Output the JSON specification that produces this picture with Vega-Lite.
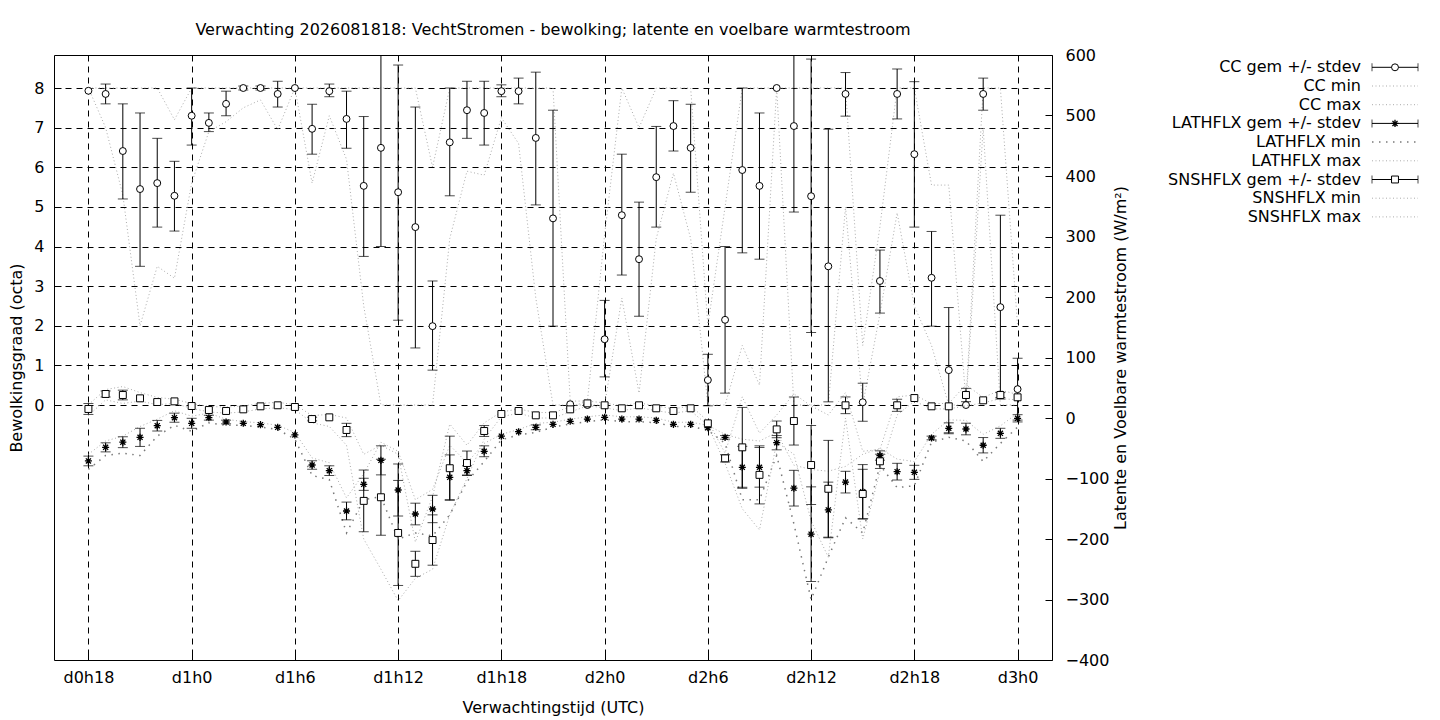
{
  "$schema": "https://vega.github.io/schema/vega-lite/v6.json",
  "padding": {"left": 8, "top": 21, "right": 0, "bottom": 0},
  "bounds": "flush",
  "spacing": 87,
  "datasets": {
    "d": [
      {"h": 18, "cc": 7.93, "cc_lo": null, "cc_hi": null, "cc_min": 8, "cc_max": 8, "lat": -71, "lat_lo": -79, "lat_hi": -63, "lat_min": -85, "lat_max": -60, "sns": 14.9, "sns_lo": 5.9, "sns_hi": 23.9, "sns_min": 4, "sns_max": 22},
      {"h": 19, "cc": 7.85, "cc_lo": 7.6, "cc_hi": 8.1, "cc_min": 7.0, "cc_max": 8, "lat": -48.5, "lat_lo": -56, "lat_hi": -41, "lat_min": -62, "lat_max": -38, "sns": 39.7, "sns_lo": 34.7, "sns_hi": 44.7, "sns_min": 30, "sns_max": 47},
      {"h": 20, "cc": 6.41, "cc_lo": 5.2, "cc_hi": 7.6, "cc_min": 5.3, "cc_max": 8, "lat": -40, "lat_lo": -49, "lat_hi": -31, "lat_min": -58, "lat_max": -30, "sns": 38, "sns_lo": 30, "sns_hi": 46, "sns_min": 24, "sns_max": 52},
      {"h": 21, "cc": 5.45, "cc_lo": 3.5, "cc_hi": 7.37, "cc_min": 2.0, "cc_max": 8, "lat": -32, "lat_lo": -47, "lat_hi": -17, "lat_min": -62, "lat_max": -14, "sns": 32.5, "sns_lo": null, "sns_hi": null, "sns_min": 28, "sns_max": 42},
      {"h": 22, "cc": 5.6, "cc_lo": 4.49, "cc_hi": 6.73, "cc_min": 3.5, "cc_max": 8, "lat": -12.7, "lat_lo": -21.5, "lat_hi": -4, "lat_min": -30, "lat_max": -2, "sns": 26.4, "sns_lo": null, "sns_hi": null, "sns_min": 22, "sns_max": 34},
      {"h": 23, "cc": 5.28, "cc_lo": 4.39, "cc_hi": 6.15, "cc_min": 3.2, "cc_max": 7.2, "lat": 0.5, "lat_lo": -7, "lat_hi": 8, "lat_min": -12, "lat_max": 12, "sns": 27.5, "sns_lo": null, "sns_hi": null, "sns_min": 24, "sns_max": 31},
      {"h": 24, "cc": 7.3, "cc_lo": 6.56, "cc_hi": 8.0, "cc_min": 5.6, "cc_max": 8, "lat": -8.8, "lat_lo": -17, "lat_hi": -0.5, "lat_min": -22, "lat_max": 3, "sns": 19.8, "sns_lo": null, "sns_hi": null, "sns_min": 16, "sns_max": 24},
      {"h": 25, "cc": 7.12, "cc_lo": 6.9, "cc_hi": 7.37, "cc_min": 6.9, "cc_max": 8, "lat": 0.5, "lat_lo": -3.5, "lat_hi": 4.5, "lat_min": -8, "lat_max": 8, "sns": 13.2, "sns_lo": null, "sns_hi": null, "sns_min": 10, "sns_max": 19},
      {"h": 26, "cc": 7.6, "cc_lo": 7.3, "cc_hi": 7.92, "cc_min": 7.15, "cc_max": 8, "lat": -6.6, "lat_lo": -9.6, "lat_hi": -3.6, "lat_min": -12, "lat_max": -2, "sns": 11.6, "sns_lo": null, "sns_hi": null, "sns_min": 8, "sns_max": 18},
      {"h": 27, "cc": 8.0, "cc_lo": 7.95, "cc_hi": 8.05, "cc_min": 7.5, "cc_max": 8, "lat": -8.8, "lat_lo": null, "lat_hi": null, "lat_min": -12, "lat_max": -6, "sns": 14.3, "sns_lo": null, "sns_hi": null, "sns_min": 10, "sns_max": 20},
      {"h": 28, "cc": 8.0, "cc_lo": 7.95, "cc_hi": 8.05, "cc_min": 7.7, "cc_max": 8, "lat": -11, "lat_lo": null, "lat_hi": null, "lat_min": -15, "lat_max": -8, "sns": 19.3, "sns_lo": null, "sns_hi": null, "sns_min": 15, "sns_max": 24},
      {"h": 29, "cc": 7.85, "cc_lo": 7.52, "cc_hi": 8.17, "cc_min": 6.95, "cc_max": 8, "lat": -15.4, "lat_lo": null, "lat_hi": null, "lat_min": -19, "lat_max": -12, "sns": 21, "sns_lo": null, "sns_hi": null, "sns_min": 17, "sns_max": 26},
      {"h": 30, "cc": 8.0, "cc_lo": null, "cc_hi": null, "cc_min": 8, "cc_max": 8, "lat": -28, "lat_lo": null, "lat_hi": null, "lat_min": -35, "lat_max": -24, "sns": 18.2, "sns_lo": null, "sns_hi": null, "sns_min": 14, "sns_max": 22},
      {"h": 31, "cc": 6.97, "cc_lo": 6.33, "cc_hi": 7.59, "cc_min": 5.6, "cc_max": 8, "lat": -77.7, "lat_lo": -84.7, "lat_hi": -70.7, "lat_min": -95, "lat_max": -66, "sns": -1.7, "sns_lo": -4.7, "sns_hi": 1.3, "sns_min": -8, "sns_max": 4},
      {"h": 32, "cc": 7.92, "cc_lo": 7.78, "cc_hi": 8.1, "cc_min": 7.3, "cc_max": 8, "lat": -87, "lat_lo": -95, "lat_hi": -79, "lat_min": -102, "lat_max": -74, "sns": 1.1, "sns_lo": null, "sns_hi": null, "sns_min": -14, "sns_max": 6},
      {"h": 33, "cc": 7.22, "cc_lo": 6.48, "cc_hi": 7.92, "cc_min": 6.2, "cc_max": 8, "lat": -153.7, "lat_lo": -168.3, "lat_hi": -139, "lat_min": -190, "lat_max": -132, "sns": -19.8, "sns_lo": -30.8, "sns_hi": -8.8, "sns_min": -45, "sns_max": 0},
      {"h": 34, "cc": 5.53, "cc_lo": 3.75, "cc_hi": 7.28, "cc_min": 2.5, "cc_max": 8, "lat": -109.6, "lat_lo": -119.6, "lat_hi": -99.6, "lat_min": -135, "lat_max": -92, "sns": -137, "sns_lo": -188, "sns_hi": -86, "sns_min": -200, "sns_max": -60},
      {"h": 35, "cc": 6.49, "cc_lo": 4.0, "cc_hi": 8.98, "cc_min": 0, "cc_max": 8, "lat": -70, "lat_lo": -94, "lat_hi": -46, "lat_min": -130, "lat_max": -40, "sns": -131, "sns_lo": -193.8, "sns_hi": -68.2, "sns_min": -250, "sns_max": -45},
      {"h": 36, "cc": 5.37, "cc_lo": 2.14, "cc_hi": 8.58, "cc_min": 0, "cc_max": 8, "lat": -119, "lat_lo": -162, "lat_hi": -76, "lat_min": -200, "lat_max": -55, "sns": -190, "sns_lo": -276.8, "sns_hi": -103.2, "sns_min": -302, "sns_max": -60},
      {"h": 37, "cc": 4.49, "cc_lo": 1.44, "cc_hi": 7.52, "cc_min": 0, "cc_max": 8, "lat": -158.7, "lat_lo": -176.6, "lat_hi": -140.8, "lat_min": -190, "lat_max": -135, "sns": -241, "sns_lo": -261.7, "sns_hi": -220.3, "sns_min": -265, "sns_max": -205},
      {"h": 38, "cc": 1.99, "cc_lo": 0.88, "cc_hi": 3.13, "cc_min": 0, "cc_max": 6.0, "lat": -150.4, "lat_lo": -173, "lat_hi": -127.8, "lat_min": -195, "lat_max": -118, "sns": -201.7, "sns_lo": -243.3, "sns_hi": -160.1, "sns_min": -250, "sns_max": -130},
      {"h": 39, "cc": 6.63, "cc_lo": 5.28, "cc_hi": 8.0, "cc_min": 4.2, "cc_max": 8, "lat": -98, "lat_lo": -135, "lat_hi": -61, "lat_min": -160, "lat_max": -45, "sns": -83, "sns_lo": -136, "sns_hi": -30, "sns_min": -160, "sns_max": -10},
      {"h": 40, "cc": 7.44, "cc_lo": 6.73, "cc_hi": 8.17, "cc_min": 5.9, "cc_max": 8, "lat": -87, "lat_lo": -95, "lat_hi": -79, "lat_min": -105, "lat_max": -74, "sns": -74.4, "sns_lo": -94.2, "sns_hi": -54.6, "sns_min": -100, "sns_max": -45},
      {"h": 41, "cc": 7.37, "cc_lo": 6.56, "cc_hi": 8.17, "cc_min": 5.8, "cc_max": 8, "lat": -55, "lat_lo": -64, "lat_hi": -46, "lat_min": -72, "lat_max": -42, "sns": -21.5, "sns_lo": -30.5, "sns_hi": -12.5, "sns_min": -35, "sns_max": -8},
      {"h": 42, "cc": 7.92, "cc_lo": 7.78, "cc_hi": 8.08, "cc_min": 7.25, "cc_max": 8, "lat": -30, "lat_lo": null, "lat_hi": null, "lat_min": -36, "lat_max": -27, "sns": 6.6, "sns_lo": null, "sns_hi": null, "sns_min": 2, "sns_max": 10},
      {"h": 43, "cc": 7.92, "cc_lo": 7.6, "cc_hi": 8.25, "cc_min": 6.6, "cc_max": 8, "lat": -22.6, "lat_lo": null, "lat_hi": null, "lat_min": -28, "lat_max": -19, "sns": 11.6, "sns_lo": null, "sns_hi": null, "sns_min": 8, "sns_max": 15},
      {"h": 44, "cc": 6.74, "cc_lo": 5.05, "cc_hi": 8.4, "cc_min": 2.7, "cc_max": 8, "lat": -15.4, "lat_lo": -19.4, "lat_hi": -11.4, "lat_min": -24, "lat_max": -9, "sns": 4.4, "sns_lo": null, "sns_hi": null, "sns_min": 0, "sns_max": 9},
      {"h": 45, "cc": 4.71, "cc_lo": 1.99, "cc_hi": 7.44, "cc_min": 0, "cc_max": 8, "lat": -10.5, "lat_lo": null, "lat_hi": null, "lat_min": -15, "lat_max": -7, "sns": 4.4, "sns_lo": null, "sns_hi": null, "sns_min": 0, "sns_max": 9},
      {"h": 46, "cc": 0.02, "cc_lo": null, "cc_hi": null, "cc_min": 0, "cc_max": 0.1, "lat": -5.5, "lat_lo": null, "lat_hi": null, "lat_min": -10, "lat_max": -2, "sns": 14.3, "sns_lo": null, "sns_hi": null, "sns_min": 10, "sns_max": 18},
      {"h": 47, "cc": 0.0, "cc_lo": null, "cc_hi": null, "cc_min": 0, "cc_max": 0.1, "lat": -1.7, "lat_lo": null, "lat_hi": null, "lat_min": -6, "lat_max": 2, "sns": 24.2, "sns_lo": null, "sns_hi": null, "sns_min": 20, "sns_max": 28},
      {"h": 48, "cc": 1.66, "cc_lo": 0.71, "cc_hi": 2.64, "cc_min": 0, "cc_max": 4.3, "lat": 1.1, "lat_lo": null, "lat_hi": null, "lat_min": -3, "lat_max": 5, "sns": 21, "sns_lo": null, "sns_hi": null, "sns_min": 17, "sns_max": 25},
      {"h": 49, "cc": 4.79, "cc_lo": 3.28, "cc_hi": 6.33, "cc_min": 2.7, "cc_max": 8, "lat": -1.7, "lat_lo": null, "lat_hi": null, "lat_min": -6, "lat_max": 2, "sns": 16, "sns_lo": null, "sns_hi": null, "sns_min": 12, "sns_max": 20},
      {"h": 50, "cc": 3.68, "cc_lo": 2.24, "cc_hi": 5.12, "cc_min": 0.3, "cc_max": 7.0, "lat": -1.7, "lat_lo": null, "lat_hi": null, "lat_min": -6, "lat_max": 2, "sns": 21, "sns_lo": null, "sns_hi": null, "sns_min": 17, "sns_max": 25},
      {"h": 51, "cc": 5.75, "cc_lo": 4.49, "cc_hi": 7.03, "cc_min": 4.2, "cc_max": 8, "lat": -3.9, "lat_lo": null, "lat_hi": null, "lat_min": -8, "lat_max": 0, "sns": 16, "sns_lo": null, "sns_hi": null, "sns_min": 12, "sns_max": 20},
      {"h": 52, "cc": 7.04, "cc_lo": 6.41, "cc_hi": 7.68, "cc_min": 5.85, "cc_max": 8, "lat": -10.5, "lat_lo": null, "lat_hi": null, "lat_min": -14, "lat_max": -7, "sns": 11.6, "sns_lo": null, "sns_hi": null, "sns_min": 8, "sns_max": 15},
      {"h": 53, "cc": 6.49, "cc_lo": 5.37, "cc_hi": 7.59, "cc_min": 4.2, "cc_max": 8, "lat": -10.5, "lat_lo": null, "lat_hi": null, "lat_min": -14, "lat_max": -7, "sns": 16, "sns_lo": null, "sns_hi": null, "sns_min": 12, "sns_max": 20},
      {"h": 54, "cc": 0.63, "cc_lo": -0.02, "cc_hi": 1.28, "cc_min": 0, "cc_max": 2.0, "lat": -16, "lat_lo": null, "lat_hi": null, "lat_min": -20, "lat_max": -12, "sns": -8.8, "sns_lo": null, "sns_hi": null, "sns_min": -12, "sns_max": -5},
      {"h": 55, "cc": 2.15, "cc_lo": 0.3, "cc_hi": 4.0, "cc_min": 0, "cc_max": 5.0, "lat": -32, "lat_lo": -35, "lat_hi": -29, "lat_min": -42, "lat_max": -27, "sns": -66.7, "sns_lo": -72.7, "sns_hi": -60.7, "sns_min": -75, "sns_max": -58},
      {"h": 56, "cc": 5.93, "cc_lo": 3.84, "cc_hi": 8.0, "cc_min": 1.5, "cc_max": 8, "lat": -81.5, "lat_lo": -116.2, "lat_hi": -46.8, "lat_min": -135, "lat_max": -35, "sns": -48.5, "sns_lo": -114.5, "sns_hi": 17.5, "sns_min": -150, "sns_max": 35},
      {"h": 57, "cc": 5.53, "cc_lo": 3.68, "cc_hi": 7.37, "cc_min": 0.5, "cc_max": 8, "lat": -81.5, "lat_lo": -114.3, "lat_hi": -48.7, "lat_min": -135, "lat_max": -38, "sns": -94, "sns_lo": -142, "sns_hi": -46, "sns_min": -185, "sns_max": -25},
      {"h": 58, "cc": 8.0, "cc_lo": null, "cc_hi": null, "cc_min": 8, "cc_max": 8, "lat": -40.8, "lat_lo": -52.6, "lat_hi": -29, "lat_min": -62, "lat_max": -24, "sns": -18.8, "sns_lo": -32.6, "sns_hi": -5, "sns_min": -40, "sns_max": 5},
      {"h": 59, "cc": 7.04, "cc_lo": 4.87, "cc_hi": 9.21, "cc_min": 0, "cc_max": 8, "lat": -116, "lat_lo": -145.5, "lat_hi": -86.5, "lat_min": -175, "lat_max": -78, "sns": -5, "sns_lo": -44.7, "sns_hi": 34.7, "sns_min": -60, "sns_max": 40},
      {"h": 60, "cc": 5.27, "cc_lo": 1.83, "cc_hi": 8.73, "cc_min": 0, "cc_max": 8, "lat": -192, "lat_lo": -270.2, "lat_hi": -113.8, "lat_min": -300, "lat_max": -85, "sns": -77.7, "sns_lo": -143, "sns_hi": -12.4, "sns_min": -170, "sns_max": 20},
      {"h": 61, "cc": 3.5, "cc_lo": 0.08, "cc_hi": 6.96, "cc_min": 0, "cc_max": 8, "lat": -152, "lat_lo": -198, "lat_hi": -106, "lat_min": -230, "lat_max": -88, "sns": -117, "sns_lo": -197, "sns_hi": -37, "sns_min": -230, "sns_max": 5},
      {"h": 62, "cc": 7.85, "cc_lo": 7.29, "cc_hi": 8.39, "cc_min": 5.0, "cc_max": 8, "lat": -106, "lat_lo": -123.9, "lat_hi": -88.1, "lat_min": -165, "lat_max": -80, "sns": 21, "sns_lo": 7.2, "sns_hi": 34.8, "sns_min": 0, "sns_max": 42},
      {"h": 63, "cc": 0.07, "cc_lo": -0.41, "cc_hi": 0.55, "cc_min": 0, "cc_max": 1.5, "lat": -122, "lat_lo": -167, "lat_hi": -77, "lat_min": -190, "lat_max": -60, "sns": -125.6, "sns_lo": -166.4, "sns_hi": -84.8, "sns_min": -200, "sns_max": -55},
      {"h": 64, "cc": 3.13, "cc_lo": 2.32, "cc_hi": 3.91, "cc_min": 2.3, "cc_max": 4.5, "lat": -62, "lat_lo": -69.7, "lat_hi": -54.3, "lat_min": -78, "lat_max": -50, "sns": -71.6, "sns_lo": -83.4, "sns_hi": -59.8, "sns_min": -88, "sns_max": -52},
      {"h": 65, "cc": 7.85, "cc_lo": 7.22, "cc_hi": 8.48, "cc_min": 4.85, "cc_max": 8, "lat": -88.7, "lat_lo": -102.5, "lat_hi": -74.9, "lat_min": -115, "lat_max": -68, "sns": 21, "sns_lo": 11, "sns_hi": 31, "sns_min": 5, "sns_max": 35},
      {"h": 66, "cc": 6.33, "cc_lo": 4.49, "cc_hi": 8.16, "cc_min": 2.5, "cc_max": 8, "lat": -89.8, "lat_lo": -101.4, "lat_hi": -78.2, "lat_min": -112, "lat_max": -72, "sns": 33, "sns_lo": null, "sns_hi": null, "sns_min": 28, "sns_max": 38},
      {"h": 67, "cc": 3.21, "cc_lo": 1.99, "cc_hi": 4.38, "cc_min": 1.5, "cc_max": 5.55, "lat": -33, "lat_lo": -36, "lat_hi": -30, "lat_min": -40, "lat_max": -27, "sns": 19.3, "sns_lo": null, "sns_hi": null, "sns_min": 15, "sns_max": 24},
      {"h": 68, "cc": 0.88, "cc_lo": -0.7, "cc_hi": 2.46, "cc_min": 0, "cc_max": 5.55, "lat": -17, "lat_lo": -26, "lat_hi": -8, "lat_min": -32, "lat_max": -3, "sns": 19.3, "sns_lo": null, "sns_hi": null, "sns_min": 15, "sns_max": 24},
      {"h": 69, "cc": 0.0, "cc_lo": null, "cc_hi": null, "cc_min": 0, "cc_max": 0.1, "lat": -18.2, "lat_lo": -27.8, "lat_hi": -8.6, "lat_min": -38, "lat_max": -4, "sns": 38, "sns_lo": 27, "sns_hi": 49, "sns_min": 20, "sns_max": 55},
      {"h": 70, "cc": 7.85, "cc_lo": 7.44, "cc_hi": 8.25, "cc_min": 7.0, "cc_max": 8, "lat": -45, "lat_lo": -57.7, "lat_hi": -32.3, "lat_min": -72, "lat_max": -27, "sns": 29.2, "sns_lo": null, "sns_hi": null, "sns_min": 25, "sns_max": 34},
      {"h": 71, "cc": 2.47, "cc_lo": 0.15, "cc_hi": 4.79, "cc_min": 0, "cc_max": 8, "lat": -25.3, "lat_lo": -33.6, "lat_hi": -17, "lat_min": -42, "lat_max": -13, "sns": 38, "sns_lo": 34, "sns_hi": 42, "sns_min": 32, "sns_max": 46},
      {"h": 72, "cc": 0.4, "cc_lo": -0.38, "cc_hi": 1.18, "cc_min": 0, "cc_max": 2.0, "lat": -0.5, "lat_lo": -6.5, "lat_hi": 5.5, "lat_min": -15, "lat_max": 8, "sns": 34.2, "sns_lo": null, "sns_hi": null, "sns_min": 30, "sns_max": 39}
    ],
    "leg": [
      {"o": 1, "label": "CC gem +/- stdev", "k": "cc"},
      {"o": 2, "label": "CC min", "k": "light"},
      {"o": 3, "label": "CC max", "k": "light"},
      {"o": 4, "label": "LATHFLX gem +/- stdev", "k": "lat"},
      {"o": 5, "label": "LATHFLX min", "k": "dark"},
      {"o": 6, "label": "LATHFLX max", "k": "light"},
      {"o": 7, "label": "SNSHFLX gem +/- stdev", "k": "sns"},
      {"o": 8, "label": "SNSHFLX min", "k": "light"},
      {"o": 9, "label": "SNSHFLX max", "k": "light"}
    ]
  },
  "hconcat": [
    {
      "title": {
        "text": "Verwachting 2026081818: VechtStromen - bewolking; latente en voelbare warmtestroom",
        "frame": "group",
        "offset": 9
      },
      "width": 998,
      "height": 605,
      "data": {"name": "d"},
      "encoding": {
        "x": {
          "field": "h",
          "type": "quantitative",
          "scale": {"domain": [16, 74], "nice": false, "zero": false},
          "axis": {
            "title": "Verwachtingstijd (UTC)",
            "values": [18, 24, 30, 36, 42, 48, 54, 60, 66, 72],
            "labelExpr": "'d' + floor(datum.value / 24) + 'h' + (datum.value % 24)",
            "grid": true,
            "tickSize": -7,
            "labelPadding": 16,
            "titlePadding": 14
          }
        }
      },
      "layer": [
        {
          "layer": [
            {
              "mark": {"type": "line", "stroke": "#ababab", "strokeWidth": 1, "strokeDash": [1, 2.5], "clip": true},
              "encoding": {
                "y": {
                  "field": "cc_min", "type": "quantitative",
                  "scale": {"domain": [-6.435, 8.833], "nice": false, "zero": false},
                  "axis": {"orient": "left", "title": "Bewolkingsgraad (octa)", "values": [0, 1, 2, 3, 4, 5, 6, 7, 8], "grid": true, "tickSize": -7, "labelPadding": 17, "titlePadding": 9}
                }
              }
            },
            {
              "mark": {"type": "line", "stroke": "#ababab", "strokeWidth": 1, "strokeDash": [1, 2.5], "clip": true},
              "encoding": {
                "y": {"field": "cc_max", "type": "quantitative",
                  "axis": {"orient": "left", "title": "Bewolkingsgraad (octa)", "values": [0, 1, 2, 3, 4, 5, 6, 7, 8], "grid": true, "tickSize": -7, "labelPadding": 17, "titlePadding": 9}}
              }
            },
            {
              "mark": {"type": "rule", "color": "black", "strokeWidth": 1, "clip": true},
              "encoding": {
                "y": {"field": "cc_lo", "type": "quantitative",
                  "axis": {"orient": "left", "title": "Bewolkingsgraad (octa)", "values": [0, 1, 2, 3, 4, 5, 6, 7, 8], "grid": true, "tickSize": -7, "labelPadding": 17, "titlePadding": 9}},
                "y2": {"field": "cc_hi"}
              }
            },
            {
              "mark": {"type": "tick", "orient": "horizontal", "color": "black", "size": 10, "thickness": 1, "clip": true},
              "encoding": {
                "y": {"field": "cc_lo", "type": "quantitative",
                  "axis": {"orient": "left", "title": "Bewolkingsgraad (octa)", "values": [0, 1, 2, 3, 4, 5, 6, 7, 8], "grid": true, "tickSize": -7, "labelPadding": 17, "titlePadding": 9}}
              }
            },
            {
              "mark": {"type": "tick", "orient": "horizontal", "color": "black", "size": 10, "thickness": 1, "clip": true},
              "encoding": {
                "y": {"field": "cc_hi", "type": "quantitative",
                  "axis": {"orient": "left", "title": "Bewolkingsgraad (octa)", "values": [0, 1, 2, 3, 4, 5, 6, 7, 8], "grid": true, "tickSize": -7, "labelPadding": 17, "titlePadding": 9}}
              }
            },
            {
              "mark": {"type": "point", "shape": "circle", "filled": true, "fill": "white", "stroke": "black", "strokeWidth": 1, "size": 48, "opacity": 1},
              "encoding": {
                "y": {"field": "cc", "type": "quantitative",
                  "axis": {"orient": "left", "title": "Bewolkingsgraad (octa)", "values": [0, 1, 2, 3, 4, 5, 6, 7, 8], "grid": true, "tickSize": -7, "labelPadding": 17, "titlePadding": 9}}
              }
            }
          ]
        },
        {
          "layer": [
            {
              "mark": {"type": "line", "stroke": "#7a7a7a", "strokeWidth": 1.5, "strokeDash": [1.5, 5.5], "clip": true},
              "encoding": {
                "y": {
                  "field": "lat_min", "type": "quantitative",
                  "scale": {"domain": [-400, 600], "nice": false, "zero": false},
                  "axis": {"orient": "right", "title": "Latente en Voelbare warmtestroom (W/m²)", "values": [-400, -300, -200, -100, 0, 100, 200, 300, 400, 500, 600], "grid": false, "tickSize": -7, "labelPadding": 20, "titlePadding": 20, "titleAngle": 270}
                }
              }
            },
            {
              "mark": {"type": "line", "stroke": "#ababab", "strokeWidth": 1, "strokeDash": [1, 2.5], "clip": true},
              "encoding": {"y": {"field": "lat_max", "type": "quantitative",
                "axis": {"orient": "right", "title": "Latente en Voelbare warmtestroom (W/m²)", "values": [-400, -300, -200, -100, 0, 100, 200, 300, 400, 500, 600], "grid": false, "tickSize": -7, "labelPadding": 20, "titlePadding": 20, "titleAngle": 270}}}
            },
            {
              "mark": {"type": "line", "stroke": "#ababab", "strokeWidth": 1, "strokeDash": [1, 2.5], "clip": true},
              "encoding": {"y": {"field": "sns_min", "type": "quantitative",
                "axis": {"orient": "right", "title": "Latente en Voelbare warmtestroom (W/m²)", "values": [-400, -300, -200, -100, 0, 100, 200, 300, 400, 500, 600], "grid": false, "tickSize": -7, "labelPadding": 20, "titlePadding": 20, "titleAngle": 270}}}
            },
            {
              "mark": {"type": "line", "stroke": "#ababab", "strokeWidth": 1, "strokeDash": [1, 2.5], "clip": true},
              "encoding": {"y": {"field": "sns_max", "type": "quantitative",
                "axis": {"orient": "right", "title": "Latente en Voelbare warmtestroom (W/m²)", "values": [-400, -300, -200, -100, 0, 100, 200, 300, 400, 500, 600], "grid": false, "tickSize": -7, "labelPadding": 20, "titlePadding": 20, "titleAngle": 270}}}
            },
            {
              "mark": {"type": "rule", "color": "black", "strokeWidth": 1, "clip": true},
              "encoding": {
                "y": {"field": "lat_lo", "type": "quantitative",
                  "axis": {"orient": "right", "title": "Latente en Voelbare warmtestroom (W/m²)", "values": [-400, -300, -200, -100, 0, 100, 200, 300, 400, 500, 600], "grid": false, "tickSize": -7, "labelPadding": 20, "titlePadding": 20, "titleAngle": 270}},
                "y2": {"field": "lat_hi"}
              }
            },
            {
              "mark": {"type": "tick", "orient": "horizontal", "color": "black", "size": 10, "thickness": 1, "clip": true},
              "encoding": {"y": {"field": "lat_lo", "type": "quantitative",
                "axis": {"orient": "right", "title": "Latente en Voelbare warmtestroom (W/m²)", "values": [-400, -300, -200, -100, 0, 100, 200, 300, 400, 500, 600], "grid": false, "tickSize": -7, "labelPadding": 20, "titlePadding": 20, "titleAngle": 270}}}
            },
            {
              "mark": {"type": "tick", "orient": "horizontal", "color": "black", "size": 10, "thickness": 1, "clip": true},
              "encoding": {"y": {"field": "lat_hi", "type": "quantitative",
                "axis": {"orient": "right", "title": "Latente en Voelbare warmtestroom (W/m²)", "values": [-400, -300, -200, -100, 0, 100, 200, 300, 400, 500, 600], "grid": false, "tickSize": -7, "labelPadding": 20, "titlePadding": 20, "titleAngle": 270}}}
            },
            {
              "mark": {"type": "point", "shape": "M-1,0L1,0M0,-1L0,1M-0.72,-0.72L0.72,0.72M-0.72,0.72L0.72,-0.72", "filled": false, "stroke": "black", "strokeWidth": 1.3, "size": 50, "opacity": 1},
              "encoding": {"y": {"field": "lat", "type": "quantitative",
                "axis": {"orient": "right", "title": "Latente en Voelbare warmtestroom (W/m²)", "values": [-400, -300, -200, -100, 0, 100, 200, 300, 400, 500, 600], "grid": false, "tickSize": -7, "labelPadding": 20, "titlePadding": 20, "titleAngle": 270}}}
            },
            {
              "mark": {"type": "rule", "color": "black", "strokeWidth": 1, "clip": true},
              "encoding": {
                "y": {"field": "sns_lo", "type": "quantitative",
                  "axis": {"orient": "right", "title": "Latente en Voelbare warmtestroom (W/m²)", "values": [-400, -300, -200, -100, 0, 100, 200, 300, 400, 500, 600], "grid": false, "tickSize": -7, "labelPadding": 20, "titlePadding": 20, "titleAngle": 270}},
                "y2": {"field": "sns_hi"}
              }
            },
            {
              "mark": {"type": "tick", "orient": "horizontal", "color": "black", "size": 10, "thickness": 1, "clip": true},
              "encoding": {"y": {"field": "sns_lo", "type": "quantitative",
                "axis": {"orient": "right", "title": "Latente en Voelbare warmtestroom (W/m²)", "values": [-400, -300, -200, -100, 0, 100, 200, 300, 400, 500, 600], "grid": false, "tickSize": -7, "labelPadding": 20, "titlePadding": 20, "titleAngle": 270}}}
            },
            {
              "mark": {"type": "tick", "orient": "horizontal", "color": "black", "size": 10, "thickness": 1, "clip": true},
              "encoding": {"y": {"field": "sns_hi", "type": "quantitative",
                "axis": {"orient": "right", "title": "Latente en Voelbare warmtestroom (W/m²)", "values": [-400, -300, -200, -100, 0, 100, 200, 300, 400, 500, 600], "grid": false, "tickSize": -7, "labelPadding": 20, "titlePadding": 20, "titleAngle": 270}}}
            },
            {
              "mark": {"type": "point", "shape": "square", "filled": true, "fill": "white", "stroke": "black", "strokeWidth": 1, "size": 48, "opacity": 1},
              "encoding": {"y": {"field": "sns", "type": "quantitative",
                "axis": {"orient": "right", "title": "Latente en Voelbare warmtestroom (W/m²)", "values": [-400, -300, -200, -100, 0, 100, 200, 300, 400, 500, 600], "grid": false, "tickSize": -7, "labelPadding": 20, "titlePadding": 20, "titleAngle": 270}}}
            }
          ]
        }
      ],
      "resolve": {"scale": {"y": "independent"}}
    },
    {
      "width": 280,
      "height": 180,
      "view": {"stroke": null},
      "data": {"name": "leg"},
      "encoding": {
        "y": {"field": "o", "type": "quantitative", "scale": {"domain": [0.342, 9.968], "reverse": true, "nice": false, "zero": false}, "axis": null}
      },
      "layer": [
        {
          "mark": {"type": "text", "align": "right", "baseline": "middle", "fontSize": 16, "color": "black"},
          "encoding": {
            "x": {"datum": 222, "type": "quantitative", "scale": {"domain": [0, 280], "nice": false, "zero": false}, "axis": null},
            "text": {"field": "label"}
          }
        },
        {
          "transform": [{"filter": "datum.k == 'light'"}],
          "mark": {"type": "rule", "stroke": "#ababab", "strokeWidth": 1, "strokeDash": [1, 2.5]},
          "encoding": {"x": {"datum": 233, "type": "quantitative"}, "x2": {"datum": 279}}
        },
        {
          "transform": [{"filter": "datum.k == 'dark'"}],
          "mark": {"type": "rule", "stroke": "#7a7a7a", "strokeWidth": 1.5, "strokeDash": [1.5, 5.5]},
          "encoding": {"x": {"datum": 233, "type": "quantitative"}, "x2": {"datum": 279}}
        },
        {
          "transform": [{"filter": "datum.k == 'cc' || datum.k == 'lat' || datum.k == 'sns'"}],
          "mark": {"type": "rule", "color": "black", "strokeWidth": 1},
          "encoding": {"x": {"datum": 233, "type": "quantitative"}, "x2": {"datum": 279}}
        },
        {
          "transform": [{"filter": "datum.k == 'cc' || datum.k == 'lat' || datum.k == 'sns'"}],
          "mark": {"type": "tick", "orient": "vertical", "color": "black", "size": 8, "thickness": 1},
          "encoding": {"x": {"datum": 233, "type": "quantitative"}}
        },
        {
          "transform": [{"filter": "datum.k == 'cc' || datum.k == 'lat' || datum.k == 'sns'"}],
          "mark": {"type": "tick", "orient": "vertical", "color": "black", "size": 8, "thickness": 1},
          "encoding": {"x": {"datum": 279, "type": "quantitative"}}
        },
        {
          "transform": [{"filter": "datum.k == 'cc'"}],
          "mark": {"type": "point", "shape": "circle", "filled": true, "fill": "white", "stroke": "black", "strokeWidth": 1, "size": 48, "opacity": 1},
          "encoding": {"x": {"datum": 256, "type": "quantitative"}}
        },
        {
          "transform": [{"filter": "datum.k == 'lat'"}],
          "mark": {"type": "point", "shape": "M-1,0L1,0M0,-1L0,1M-0.72,-0.72L0.72,0.72M-0.72,0.72L0.72,-0.72", "filled": false, "stroke": "black", "strokeWidth": 1.3, "size": 50, "opacity": 1},
          "encoding": {"x": {"datum": 256, "type": "quantitative"}}
        },
        {
          "transform": [{"filter": "datum.k == 'sns'"}],
          "mark": {"type": "point", "shape": "square", "filled": true, "fill": "white", "stroke": "black", "strokeWidth": 1, "size": 48, "opacity": 1},
          "encoding": {"x": {"datum": 256, "type": "quantitative"}}
        }
      ]
    }
  ],
  "config": {
    "font": "DejaVu Sans",
    "view": {"stroke": "black", "strokeWidth": 1},
    "axis": {
      "labelFontSize": 16,
      "titleFontSize": 16,
      "titleFontWeight": "normal",
      "labelColor": "black",
      "titleColor": "black",
      "domain": false,
      "tickColor": "black",
      "tickWidth": 1,
      "gridColor": "black",
      "gridOpacity": 1,
      "gridWidth": 1,
      "gridDash": [6, 5]
    },
    "title": {"fontSize": 16, "fontWeight": "normal", "color": "black"}
  }
}
